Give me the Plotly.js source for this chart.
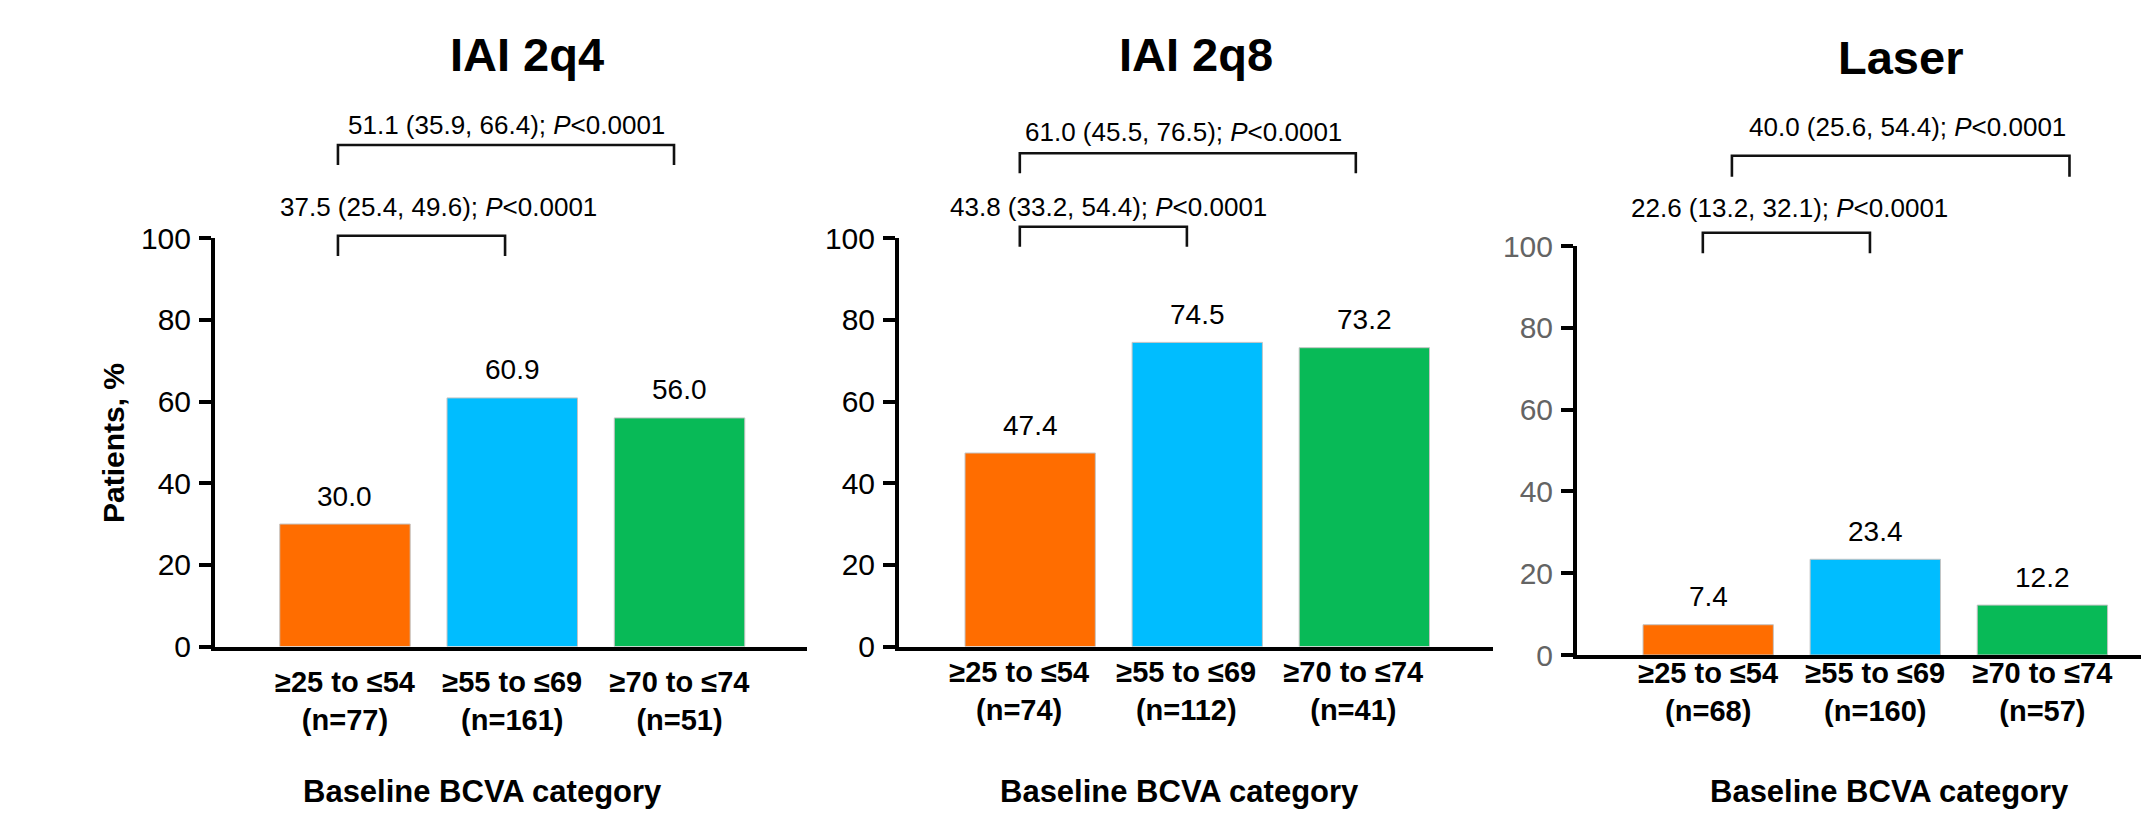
<!DOCTYPE html>
<html>
<head>
<meta charset="utf-8">
<script src="https://cdn.plot.ly/plotly-3.0.1.min.js"></script>
<style>html,body{margin:0;padding:0;background:#fff;}#chart{width:2141px;height:817px;}</style>
</head>
<body>
<div id="chart"></div>
<script>
// ---------------- DATA ----------------
const categories = ['≥25 to ≤54', '≥55 to ≤69', '≥70 to ≤74'];
const panelTitles = ['IAI 2q4', 'IAI 2q8', 'Laser'];
const nIAI2q4 = [77, 161, 51];
const nIAI2q8 = [74, 112, 41];
const nLaser = [68, 160, 57];
const pctIAI2q4 = [30.0, 60.9, 56.0];
const pctIAI2q8 = [47.4, 74.5, 73.2];
const pctLaser = [7.4, 23.4, 12.2];
// comparisons vs the ≥25 to ≤54 group: [vs ≥55 to ≤69, vs ≥70 to ≤74]
const cmpPairs = [[0, 1], [0, 2]];
const estIAI2q4 = [37.5, 51.1], lowIAI2q4 = [25.4, 35.9], highIAI2q4 = [49.6, 66.4];
const estIAI2q8 = [43.8, 61.0], lowIAI2q8 = [33.2, 45.5], highIAI2q8 = [54.4, 76.5];
const estLaser = [22.6, 40.0], lowLaser = [13.2, 25.6], highLaser = [32.1, 54.4];
const pText = '<i>P</i><0.0001';
const yTicks = [0, 20, 40, 60, 80, 100];
const xTitle = 'Baseline BCVA category';
const yTitle = 'Patients, %';

// ---------------- STYLE / POSITIONS ----------------
const W = 2141, H = 817;
const barColors = ['#FF6D00', '#00BDFF', '#08BA57'];
const FONT = 'Liberation Sans, Arial, Helvetica, sans-serif';
const panels = [
  {n: nIAI2q4, v: pctIAI2q4, est: estIAI2q4, lo: lowIAI2q4, hi: highIAI2q4,
   xpx: [215, 807], ypx: [238.3, 646.5], range: [-0.777, 2.762], shift: -9.5, standoff: 7, tickColor: '#000',
   titleX: 527, titleY: 54.5, xTitleX: 482,
   brk: [{o0: -0.042, o1: -0.043, top: 235.7, bot: 256, tx: 0.562, ty: 207},
         {o0: -0.042, o1: -0.033, top: 145, bot: 165, tx: 0.966, ty: 125}]},
  {n: nIAI2q8, v: pctIAI2q8, est: estIAI2q8, lo: lowIAI2q8, hi: highIAI2q8,
   xpx: [899, 1493], ypx: [238.3, 646.5], range: [-0.785, 2.770], shift: -11, standoff: -3, tickColor: '#000',
   titleX: 1196, titleY: 54.5, xTitleX: 1179,
   brk: [{o0: -0.062, o1: -0.062, top: 226.7, bot: 246.7, tx: 0.468, ty: 206.7},
         {o0: -0.062, o1: -0.051, top: 153.3, bot: 173.3, tx: 0.918, ty: 131.7}]},
  {n: nLaser, v: pctLaser, est: estLaser, lo: lowLaser, hi: highLaser,
   xpx: [1577, 2141], ypx: [246, 655], range: [-0.785, 2.590], shift: 13.5, standoff: -11, tickColor: '#646464',
   titleX: 1900.5, titleY: 57, xTitleX: 1889,
   brk: [{o0: -0.032, o1: -0.032, top: 232.7, bot: 253.3, tx: 0.488, ty: 208.3},
         {o0: 0.142, o1: 0.162, top: 155.7, bot: 176.7, tx: 1.194, ty: 126.7}]}
];

const py = p => 1 - p / H;
const xs = categories.map((c, i) => i);
const data = [];
const layout = {
  width: W, height: H, autosize: false,
  margin: {l: 0, r: 0, t: 0, b: 0, pad: 0},
  paper_bgcolor: '#fff', plot_bgcolor: 'rgba(0,0,0,0)',
  showlegend: false, bargap: 0.22,
  font: {family: FONT, color: '#000'},
  shapes: [], annotations: []
};

panels.forEach((p, k) => {
  const sx = k === 0 ? '' : String(k + 1);
  const xa = 'x' + sx, ya = 'y' + sx;
  data.push({
    type: 'bar', x: xs, y: p.v, xaxis: xa, yaxis: ya, width: 0.78,
    marker: {color: barColors, line: {color: '#C4C4C4', width: 1}},
    hoverinfo: 'y'
  });
  layout['xaxis' + sx] = {
    domain: [p.xpx[0] / W, p.xpx[1] / W], range: p.range, anchor: ya,
    tickvals: xs, ticktext: categories.map((c, i) => c + '<br>(n=' + p.n[i] + ')'),
    ticks: '', showline: true, linewidth: 4, linecolor: '#000',
    showgrid: false, zeroline: false, fixedrange: true,
    tickfont: {size: 29, weight: 'bold', color: '#000', family: FONT},
    ticklabelshift: p.shift, ticklabelstandoff: p.standoff
  };
  layout['yaxis' + sx] = {
    domain: [py(p.ypx[1]), py(p.ypx[0])], range: [0, 100], anchor: xa,
    tickvals: yTicks, ticks: 'outside', ticklen: 12, tickwidth: 4, tickcolor: '#000',
    showline: true, linewidth: 4, linecolor: '#000',
    showgrid: false, zeroline: false, fixedrange: true,
    tickfont: {size: 30, color: p.tickColor, family: FONT},
    ticklabelstandoff: 2
  };
  // panel title
  layout.annotations.push({xref: 'paper', yref: 'paper', x: p.titleX / W, y: py(p.titleY),
    text: '<b>' + panelTitles[k] + '</b>', showarrow: false, xanchor: 'center', yanchor: 'middle',
    font: {size: 47, color: '#000', family: FONT}});
  // x axis title
  layout.annotations.push({xref: 'paper', yref: 'paper', x: p.xTitleX / W, y: py(791),
    text: '<b>' + xTitle + '</b>', showarrow: false, xanchor: 'center', yanchor: 'middle',
    font: {size: 31, color: '#000', family: FONT}});
  // value labels
  p.v.forEach((v, i) => {
    layout.annotations.push({xref: xa, yref: ya, x: xs[i], y: v, text: v.toFixed(1),
      showarrow: false, xanchor: 'center', yanchor: 'middle', yshift: 28,
      font: {size: 28, color: '#000', family: FONT}});
  });
  // comparison brackets
  cmpPairs.forEach((pr, j) => {
    const b = p.brk[j];
    const x0 = xs[pr[0]] + b.o0, x1 = xs[pr[1]] + b.o1;
    layout.shapes.push({type: 'path', xref: xa, yref: 'paper',
      path: 'M' + x0 + ',' + py(b.bot) + ' L' + x0 + ',' + py(b.top) + ' L' + x1 + ',' + py(b.top) + ' L' + x1 + ',' + py(b.bot),
      line: {color: '#111', width: 2.6}});
    layout.annotations.push({xref: xa, yref: 'paper', x: b.tx, y: py(b.ty),
      text: p.est[j].toFixed(1) + ' (' + p.lo[j].toFixed(1) + ', ' + p.hi[j].toFixed(1) + '); ' + pText,
      showarrow: false, xanchor: 'center', yanchor: 'middle',
      font: {size: 26, color: '#000', family: FONT}});
  });
});
// y axis title (first panel)
layout.annotations.push({xref: 'paper', yref: 'paper', x: 113 / W, y: py(443),
  text: '<b>' + yTitle + '</b>', textangle: -90, showarrow: false, xanchor: 'center', yanchor: 'middle',
  font: {size: 30, color: '#000', family: FONT}});

Plotly.newPlot('chart', data, layout, {displayModeBar: false, staticPlot: true});
</script>
</body>
</html>
